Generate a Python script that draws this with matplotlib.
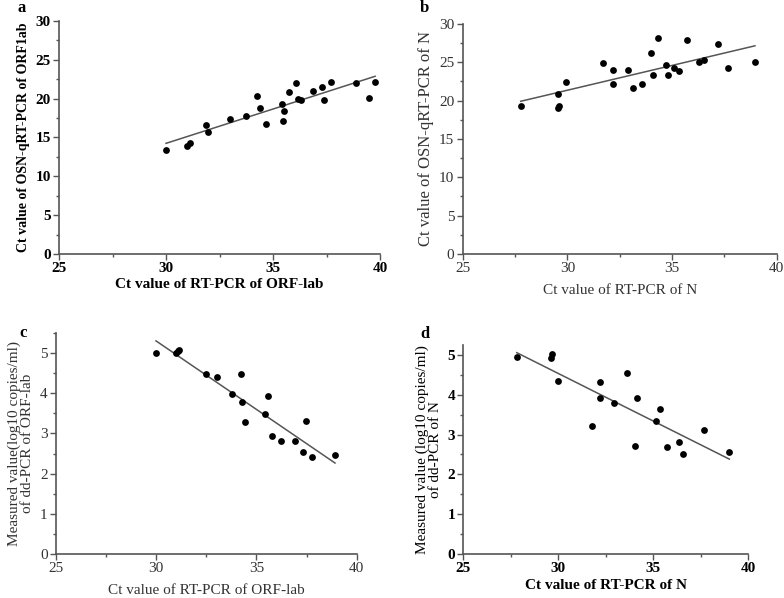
import matplotlib
matplotlib.use('Agg')
import matplotlib.pyplot as plt
import numpy as np
from matplotlib.ticker import MultipleLocator

plt.rcParams['font.family'] = ['Liberation Serif', 'DejaVu Serif']

# panel a: ORF1ab, OSN-qRT-PCR vs RT-PCR
a_x = [30.0, 30.96, 31.11, 31.86, 31.97, 32.98, 33.73, 34.25, 34.4, 34.65, 35.4, 35.53,
       35.48, 35.74, 36.06, 36.18, 36.3, 36.88, 37.27, 37.4, 37.71, 38.88, 39.49, 39.77]
a_y = [13.37, 13.93, 14.3, 16.6, 15.7, 17.4, 17.8, 20.4, 18.86, 16.8, 19.37, 18.43,
       17.06, 20.87, 22.03, 19.97, 19.8, 21.0, 21.5, 19.8, 22.1, 22.03, 20.14, 22.2]

# panel b: N gene
b_x = [27.77, 29.57, 29.57, 29.6, 29.95, 31.72, 32.17, 32.17, 32.9, 33.12, 33.57, 33.98,
       34.08, 34.32, 34.71, 34.8, 35.1, 35.32, 35.7, 36.3, 36.54, 37.21, 37.66, 38.96]
b_y = [19.3, 20.9, 19.1, 19.25, 22.43, 24.87, 23.96, 22.2, 24.04, 21.65, 22.17, 26.2,
       23.35, 28.2, 24.7, 23.4, 24.26, 23.87, 27.87, 25.04, 25.35, 27.35, 24.26, 25.0]

# panel c: dd-PCR ORF-lab
c_x = [29.99, 30.99, 31.07, 31.12, 32.47, 33.02, 33.76, 34.28, 34.41, 34.21, 35.56,
       35.43, 35.76, 36.22, 36.92, 37.46, 37.31, 37.79, 38.92]
c_y = [5.0, 5.0, 5.05, 5.08, 4.47, 4.41, 3.98, 3.77, 3.29, 4.47, 3.93,
       3.49, 2.93, 2.8, 2.8, 3.32, 2.53, 2.41, 2.46]

# panel d: dd-PCR N
d_x = [27.81, 29.65, 29.63, 30.0, 31.75, 32.21, 32.21, 32.95, 33.61, 34.04, 34.12,
       35.14, 35.37, 35.74, 36.35, 36.58, 37.68, 39.0]
d_y = [4.96, 5.02, 4.93, 4.35, 3.22, 4.33, 3.91, 3.79, 4.55, 2.72, 3.93,
       3.34, 3.64, 2.68, 2.81, 2.51, 3.11, 2.55]

fig = plt.figure(figsize=(7.84, 5.98), dpi=100)

panels = [
    # letter, x, y, rect, ylim, ymaj, xlabel, ylabel, bold, text color, xpad, ylabel size
    ('a', a_x, a_y, [0.0753, 0.5753, 0.4094, 0.3896], (0, 30), 5,
     'Ct value of RT-PCR of ORF-lab', 'Ct value of OSN-qRT-PCR of ORF1ab', True, 'black', 2, 10),
    ('b', b_x, b_y, [0.5902, 0.5753, 0.4005, 0.3846], (0, 30), 5,
     'Ct value of RT-PCR of N', 'Ct value of OSN-qRT-PCR of N', False, '#333333', 6, 12),
    ('c', c_x, c_y, [0.0714, 0.0736, 0.3835, 0.3696], (0, 5.5), 1,
     'Ct value of RT-PCR of ORF-lab', 'Measured value(log10 copies/ml)\nof dd-PCR of ORF-lab', False, '#333333', 6, 11),
    ('d', d_x, d_y, [0.5910, 0.0736, 0.3635, 0.3495], (0, 5.25), 1,
     'Ct value of RT-PCR of N', 'Measured value (log10 copies/ml)\nof dd-PCR of N', True, 'black', 3, 11),
]

for letter, xs, ys, rect, ylim, ymaj, xl, yl, bold, tc, xpad, ysz in panels:
    ax = fig.add_axes(rect)
    xs = np.array(xs)
    ys = np.array(ys)
    ax.scatter(xs, ys, s=24, color='black', zorder=3, linewidths=0)
    k, b = np.polyfit(xs, ys, 1)
    xx = np.array([xs.min(), xs.max()])
    ax.plot(xx, k * xx + b, color='#555555', lw=1.1)

    ax.set_xlim(25, 40)
    ax.set_ylim(*ylim)
    ax.xaxis.set_major_locator(MultipleLocator(5))
    ax.xaxis.set_minor_locator(MultipleLocator(2.5))
    ax.yaxis.set_major_locator(MultipleLocator(ymaj))
    ax.yaxis.set_minor_locator(MultipleLocator(ymaj / 2))
    for s in ['top', 'right']:
        ax.spines[s].set_visible(False)
    for s in ['left', 'bottom']:
        ax.spines[s].set_color('#555555')
        ax.spines[s].set_linewidth(1.2)
    ax.tick_params(which='major', length=4, width=1, color='#555555', labelsize=11, labelcolor=tc, pad=2)
    ax.tick_params(which='minor', length=2, width=1, color='#555555')

    w = 'bold' if bold else 'normal'
    for lab in ax.get_xticklabels() + ax.get_yticklabels():
        lab.set_fontweight(w)
    ax.set_xlabel(xl, fontsize=11, fontweight=w, color=tc, labelpad=xpad)
    yw = 'bold' if letter == 'a' else 'normal'
    ax.set_ylabel(yl, fontsize=ysz, fontweight=yw, color=tc, labelpad=4, linespacing=1.0)

fig.text(18 / 784, 1 - 12 / 598, 'a', fontsize=12, fontweight='bold')
fig.text(420 / 784, 1 - 12 / 598, 'b', fontsize=12, fontweight='bold')
fig.text(19 / 784, 1 - 337 / 598, 'c', fontsize=12, fontweight='bold')
fig.text(420 / 784, 1 - 338 / 598, 'd', fontsize=12, fontweight='bold')

fig.savefig('out.png', dpi=100)
